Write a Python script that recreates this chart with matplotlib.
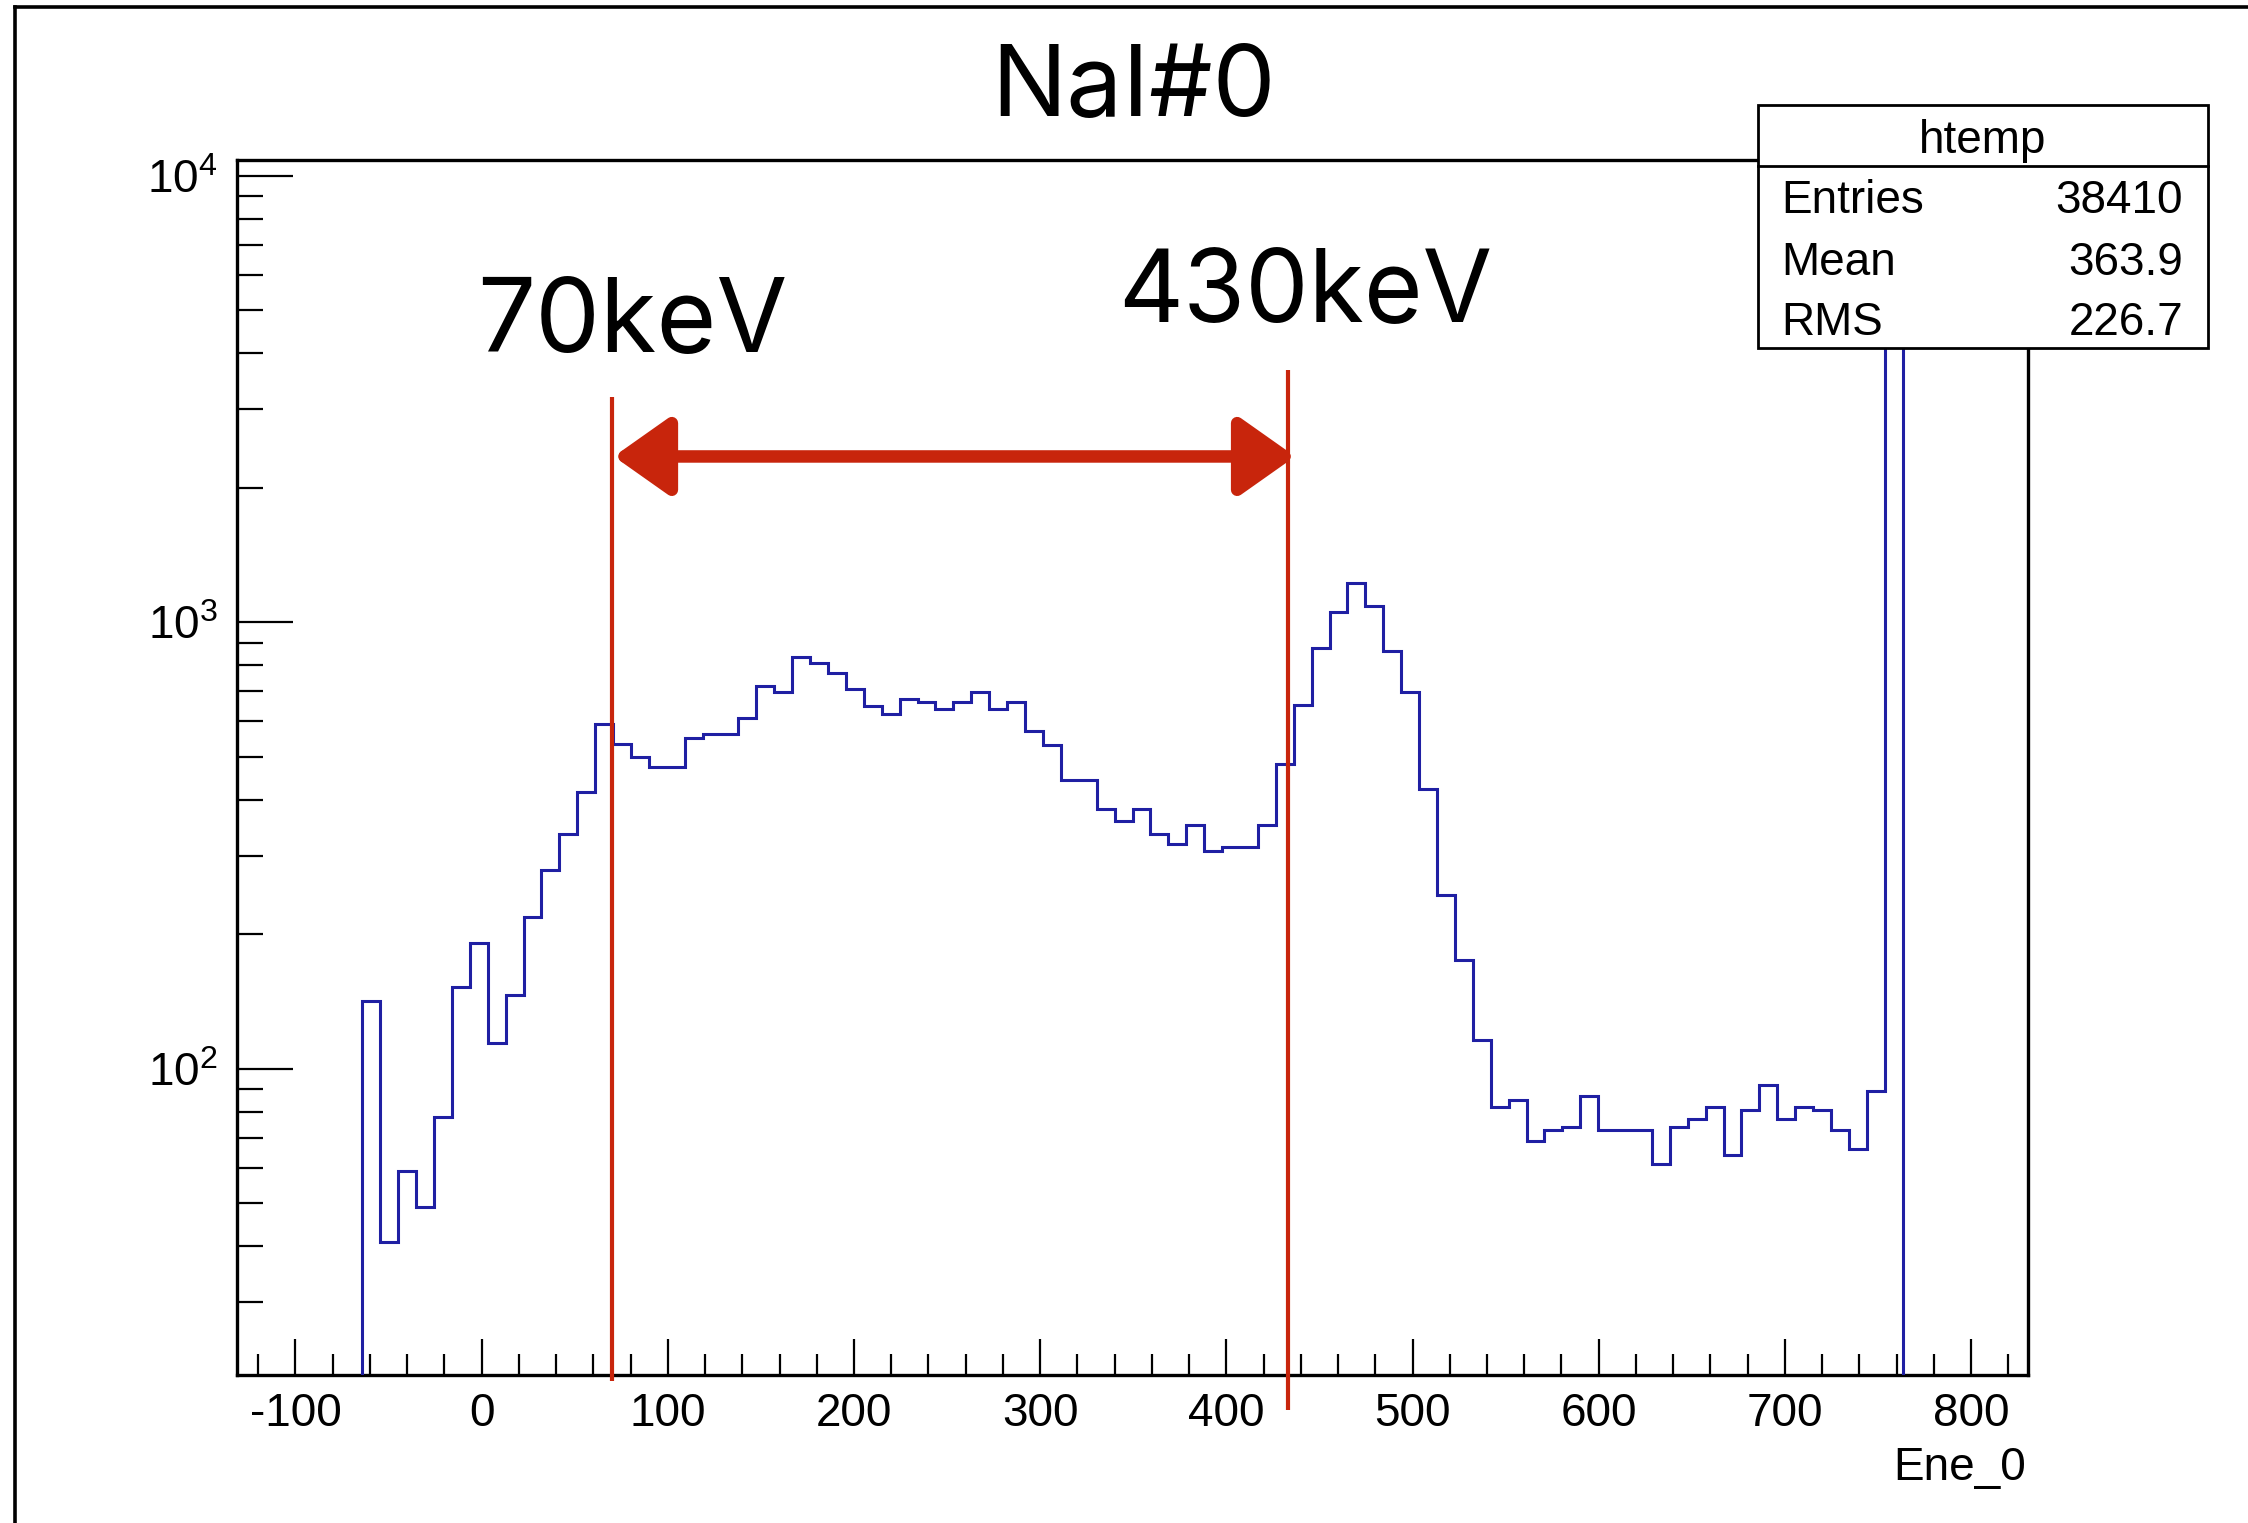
import numpy as np
import matplotlib
matplotlib.use("Agg")
import matplotlib.pyplot as plt
from matplotlib.patches import Rectangle
from matplotlib.lines import Line2D
from matplotlib.ticker import FixedLocator, LogLocator, NullFormatter, FixedFormatter, MultipleLocator

plt.rcParams['font.family'] = ['Liberation Sans', 'DejaVu Sans']
plt.rcParams['mathtext.default'] = 'regular'
plt.rcParams['axes.unicode_minus'] = False

# ---------------- data ----------------
hist_title = "NaI#0"
hist_name = "htemp"
x_label = "Ene_0"
n_bins = 100
hist_min = -131.4
hist_max = 830.6
counts = [
    0, 0, 0, 0, 0, 0, 0,
    142, 41, 59, 49, 78, 152, 191, 114, 146, 219, 279, 335, 416, 590,
    534, 499, 474, 474, 551, 561, 561, 610, 719, 698, 835, 809, 769, 709,
    650, 622, 673, 662, 640, 662, 696, 640, 661, 571,
    532, 444, 444, 382, 358, 382, 336, 319, 352, 308, 314, 314, 352, 482,
    651, 877, 1052, 1224, 1085, 861, 698, 422,
    245, 175, 116, 82, 85, 69, 73, 74, 87, 73, 73, 73, 61, 74, 77, 82,
    64, 81, 92, 77, 82, 81, 73, 66, 89,
    5900,
    0, 0, 0, 0, 0, 0,
]
stats_labels = ["Entries", "Mean", "RMS"]
stats_values = ["38410", "363.9", "226.7"]
x_major_ticks = [-100, 0, 100, 200, 300, 400, 500, 600, 700, 800]
y_major_ticks = [1e2, 1e3, 1e4]
y_tick_labels = [r"$10^{2}$", r"$10^{3}$", r"$10^{4}$"]
y_range = (20.6, 10840)
cut_lines = [70, 433]
cut_labels = ["70keV", "430keV"]
arrow_level = 2350

# ---------------- figure ----------------
W, H = 2248, 1523
fig = plt.figure(figsize=(W / 100, H / 100), dpi=100)
fig.patch.set_facecolor('white')

def fx(px):
    return px / W

def fy(py):
    return (H - py) / H

ax = fig.add_axes([fx(237), fy(1375), fx(2028) - fx(237), fy(160) - fy(1375)])
ax.set_yscale('log')
ax.set_xlim(hist_min, hist_max)
ax.set_ylim(*y_range)

edges = np.linspace(hist_min, hist_max, n_bins + 1)
counts_arr = np.array(counts, dtype=float)
nz = np.nonzero(counts_arr)[0]
i0, i1 = nz[0], nz[-1] + 1
ax.stairs(counts_arr[i0:i1], edges[i0:i1 + 1], baseline=1.0, fill=False,
          color='#1f1fa3', lw=2.2, zorder=3)

for s in ax.spines.values():
    s.set_linewidth(2.4)
    s.set_color('black')

ax.xaxis.set_major_locator(FixedLocator(x_major_ticks))
ax.xaxis.set_minor_locator(MultipleLocator(20))
ax.yaxis.set_major_locator(FixedLocator(y_major_ticks))
ax.yaxis.set_major_formatter(FixedFormatter(y_tick_labels))
ax.yaxis.set_minor_locator(LogLocator(base=10, subs=np.arange(2, 10)))
ax.yaxis.set_minor_formatter(NullFormatter())

ax.tick_params(axis='x', which='major', direction='in', length=26, width=1.6,
               labelsize=33, pad=12, top=False)
ax.tick_params(axis='x', which='minor', direction='in', length=15, width=1.6, top=False)
ax.tick_params(axis='y', which='major', direction='in', length=40, width=1.6,
               labelsize=33, pad=14, right=False)
ax.tick_params(axis='y', which='minor', direction='in', length=19, width=1.6, right=False)

# x axis label
fig.text(fx(2026), fy(1480), x_label, ha='right', va='baseline', fontsize=33)

# red cut lines
red = '#c8250c'
trans = ax.get_xaxis_transform()
ax.plot([cut_lines[0], cut_lines[0]], [-0.005, 0.805], transform=trans,
        color=red, lw=3.0, clip_on=False, zorder=4, solid_capstyle='butt')
ax.plot([cut_lines[1], cut_lines[1]], [-0.029, 0.827], transform=trans,
        color=red, lw=3.0, clip_on=False, zorder=4, solid_capstyle='butt')

# double arrow
ax.annotate('', xy=(cut_lines[0] + 1, arrow_level), xytext=(cut_lines[1] + 4, arrow_level),
            xycoords='data', textcoords='data',
            arrowprops=dict(arrowstyle='<|-|>,head_length=34,head_width=24',
                            mutation_scale=1, color=red, lw=9, shrinkA=0, shrinkB=0),
            zorder=5)

# annotation texts
title_font = ['Inter', 'Lato', 'DejaVu Sans']
fig.text(fx(1134), fy(116), hist_title, ha='center', va='baseline', fontsize=72,
         family=title_font, fontweight='normal')
fig.text(fx(477), fy(352), cut_labels[0], ha='left', va='baseline', fontsize=74,
         family=title_font, fontweight='normal')
fig.text(fx(1118), fy(322), cut_labels[1], ha='left', va='baseline', fontsize=72.5,
         family=title_font, fontweight='normal')

# stats box
bx0, bx1, by0, by1, bsep = 1758, 2208, 105, 348, 166
fig.patches.append(Rectangle((fx(bx0), fy(by1)), fx(bx1) - fx(bx0), fy(by0) - fy(by1),
                             transform=fig.transFigure, facecolor='white',
                             edgecolor='black', lw=2.0, zorder=5))
fig.lines.append(Line2D([fx(bx0), fx(bx1)], [fy(bsep), fy(bsep)],
                        transform=fig.transFigure, color='black', lw=2.0, zorder=6))
fig.text(fx(1983), fy(153), hist_name, ha='center', va='baseline', fontsize=33, zorder=7)
for lab, val, yb in zip(stats_labels, stats_values, [213, 275, 335]):
    fig.text(fx(1781), fy(yb), lab, ha='left', va='baseline', fontsize=33, zorder=7)
    fig.text(fx(2183), fy(yb), val, ha='right', va='baseline', fontsize=33, zorder=7)

# outer frame (top and left edges visible)
fig.lines.append(Line2D([fx(15), 1.0], [fy(7), fy(7)], transform=fig.transFigure,
                        color='black', lw=2.6, zorder=8))
fig.lines.append(Line2D([fx(15), fx(15)], [fy(7), 0.0], transform=fig.transFigure,
                        color='black', lw=2.6, zorder=8))

fig.savefig('out.png', dpi=100)
